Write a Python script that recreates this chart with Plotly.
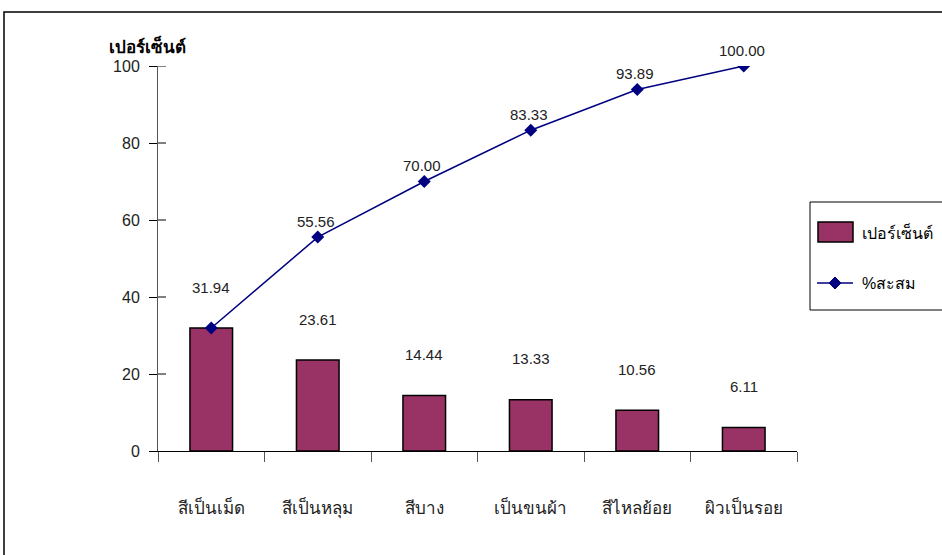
import plotly.graph_objects as go

categories = ["สีเป็นเม็ด", "สีเป็นหลุม", "สีบาง", "เป็นขนผ้า", "สีไหลย้อย", "ผิวเป็นรอย"]
percent = [31.94, 23.61, 14.44, 13.33, 10.56, 6.11]
cumulative = [31.94, 55.56, 70.00, 83.33, 93.89, 100.00]
y_ticks = [0, 20, 40, 60, 80, 100]
series_names = ["เปอร์เซ็นต์", "%สะสม"]

FONT = "Liberation Sans, Arial, sans-serif"
BAR_COLOR = "#993366"
LINE_COLOR = "#000080"

# plot area geometry (pixels) used to convert legend/frame pixel positions to paper coords
W, H = 942, 555
L, R, T, B = 158, 145, 66, 104
PW, PH = W - L - R, H - T - B


def px(xp):
    return (xp - L) / PW


def py(yp):
    return (H - B - yp) / PH


fig = go.Figure()
fig.add_trace(go.Bar(
    x=categories, y=percent, name=series_names[0], width=0.4,
    marker=dict(color=BAR_COLOR, line=dict(color="black", width=1.5)),
    showlegend=False,
))
fig.add_trace(go.Scatter(
    x=categories, y=cumulative, name=series_names[1], mode="lines+markers",
    line=dict(color=LINE_COLOR, width=1.5),
    marker=dict(symbol="diamond", size=10, color=LINE_COLOR),
    showlegend=False,
))

annotations = []
for c, v in zip(categories, percent):
    annotations.append(dict(x=c, y=v, text=f"{v:.2f}", showarrow=False, yshift=41,
                            font=dict(family=FONT, size=15, color="#222")))
for i, (c, v) in enumerate(zip(categories, cumulative)):
    if i == 0:
        continue
    annotations.append(dict(x=c, y=v, text=f"{v:.2f}", showarrow=False, yshift=16, xshift=-2,
                            font=dict(family=FONT, size=15, color="#222")))
annotations.append(dict(xref="paper", yref="paper", x=px(107), y=py(46), xanchor="left",
                        yanchor="middle", text="<b>เปอร์เซ็นต์</b>", showarrow=False,
                        font=dict(family=FONT, size=17, color="black")))
# legend texts
annotations.append(dict(xref="paper", yref="paper", x=px(860), y=py(232), xanchor="left",
                        yanchor="middle", text=series_names[0], showarrow=False,
                        font=dict(family=FONT, size=16, color="black")))
annotations.append(dict(xref="paper", yref="paper", x=px(860), y=py(283), xanchor="left",
                        yanchor="middle", text=series_names[1], showarrow=False,
                        font=dict(family=FONT, size=16, color="black")))

dx, dy = 6 / PW, 6 / PH
cx, cy = px(835), py(283)
shapes = [
    # outer frame
    dict(type="rect", xref="paper", yref="paper", x0=px(4), x1=px(1000), y0=py(700), y1=py(12),
         line=dict(color="black", width=1.5), fillcolor="rgba(0,0,0,0)", layer="below"),
    # legend box
    dict(type="rect", xref="paper", yref="paper", x0=px(810), x1=px(1000), y0=py(310), y1=py(202),
         line=dict(color="black", width=1), fillcolor="white"),
    # legend bar swatch
    dict(type="rect", xref="paper", yref="paper", x0=px(818), x1=px(853), y0=py(242), y1=py(222),
         line=dict(color="black", width=1.5), fillcolor=BAR_COLOR),
    # legend line
    dict(type="line", xref="paper", yref="paper", x0=px(817), x1=px(853), y0=cy, y1=cy,
         line=dict(color=LINE_COLOR, width=1.5)),
    # legend diamond
    dict(type="path", xref="paper", yref="paper",
         path=f"M {cx-dx} {cy} L {cx} {cy+dy} L {cx+dx} {cy} L {cx} {cy-dy} Z",
         line=dict(color=LINE_COLOR, width=1), fillcolor=LINE_COLOR),
]
# inner half of the y-axis tick marks (ticks cross the axis line)
for t in y_ticks[1:]:
    shapes.append(dict(type="line", xref="paper", yref="y", x0=0, x1=8 / PW, y0=t, y1=t,
                       line=dict(color="black", width=1)))

fig.update_layout(
    width=W, height=H,
    margin=dict(l=L, r=R, t=T, b=B, autoexpand=False),
    paper_bgcolor="white", plot_bgcolor="white",
    font=dict(family=FONT, size=15, color="#222"),
    showlegend=False,
    xaxis=dict(showline=True, linecolor="black", linewidth=1, ticks="outside",
               tickson="boundaries", ticklen=10, tickcolor="#555",
               showgrid=False, ticklabelstandoff=42,
               tickfont=dict(size=17, color="#222")),
    yaxis=dict(range=[0, 100], tickvals=y_ticks, showline=True, linecolor="#555",
               linewidth=1, ticks="outside", ticklen=8, tickcolor="black",
               showgrid=False, zeroline=False, ticklabelstandoff=6,
               tickfont=dict(size=16, color="#222")),
    annotations=annotations,
    shapes=shapes,
)

fig.write_html("out.html", config={"displayModeBar": False},
               post_script="document.body.style.margin='0';")
